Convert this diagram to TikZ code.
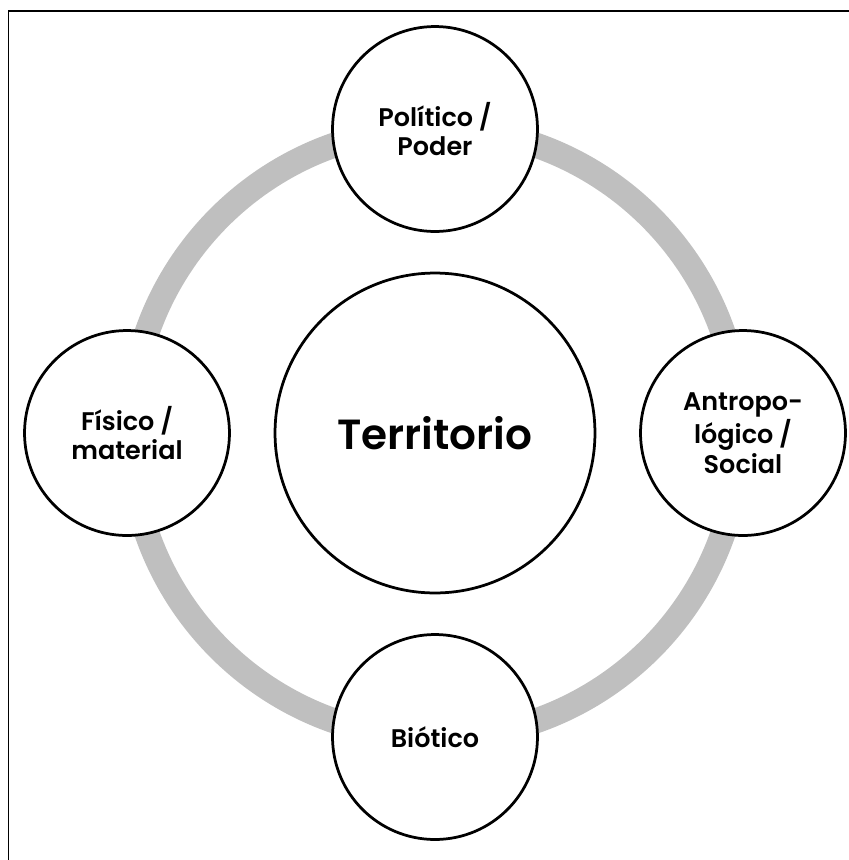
\documentclass[tikz,border=0pt]{standalone}
\usepackage{fontspec}
\setmainfont{Poppins}[BoldFont={Poppins SemiBold}]
\begin{document}
\begin{tikzpicture}[x=0.02cm, y=-0.02cm,
  aspecto/.style={circle, draw, line width=0.055cm, fill=white, minimum size=4.1cm,
    inner sep=0pt, align=center, font=\bfseries\fontsize{14.5}{17}\selectfont},
  nucleo/.style={circle, draw, line width=0.055cm, fill=white, minimum size=6.4cm,
    inner sep=0pt, font=\bfseries\fontsize{24}{28}\selectfont}]
\useasboundingbox (0,0) rectangle (849,860);
\draw[line width=0.04cm] (8.5,860) -- (8.5,11) -- (849,11);
\draw[line width=0.5cm, color={rgb,255:red,191;green,191;blue,191}] (435,433) circle [radius=6.1cm];
\node (T) at (435,433) [nucleo] {Territorio};
\node (P) at (435,129) [aspecto] {Político /\\Poder};
\node (A) at (743,433) [aspecto] {Antropo-\\lógico /\\Social};
\node (B) at (435,737) [aspecto] {Biótico};
\node (F) at (127,433) [aspecto] {Físico /\\material};
\end{tikzpicture}
\end{document}
